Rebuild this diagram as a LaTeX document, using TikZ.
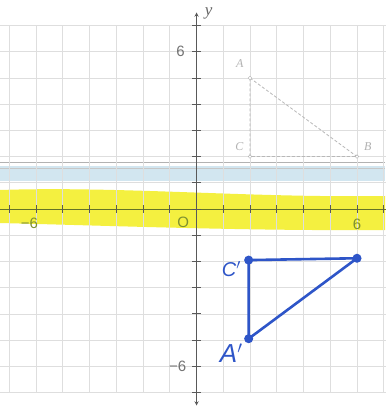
\documentclass[tikz,border=0pt]{standalone}
\usepackage{fontspec}
\setmainfont{Liberation Sans}
\newfontfamily\serifit{Liberation Serif}
\begin{document}
\begin{tikzpicture}[x=1pt,y=-1pt,
  gridline/.style={draw=black!13, line width=0.6pt},
  axisline/.style={draw=black!65, line width=0.9pt},
  ticklbl/.style={text=black!55, font=\fontsize{15}{15}\selectfont, inner sep=0pt},
  oldtri/.style={draw=black!28, line width=0.8pt, densely dashed},
  oldpt/.style={circle, draw=black!30, fill=white, inner sep=1.3pt},
  oldlbl/.style={text=black!30, font=\serifit\itshape\fontsize{12}{12}\selectfont, inner sep=0pt},
  newtri/.style={draw=inkblue, line width=2.6pt, line join=round, line cap=round},
  newpt/.style={circle, fill=inkblue, inner sep=3.2pt},
  newlbl/.style={text=inkblue, font=\itshape\fontsize{20}{20}\selectfont, inner sep=0pt}]
\definecolor{inkblue}{HTML}{2E55C8}
\definecolor{hiyellow}{HTML}{F4F040}
\definecolor{bandblue}{HTML}{D2E6F0}
\definecolor{hitext}{HTML}{7E9030}
\useasboundingbox (0,0) rectangle (385,411);
\fill[white] (0,0) rectangle (385,411);
% highlighter bands (under everything)
\fill[bandblue] (0,166) rectangle (385,181);
\fill[hiyellow] (0,190) .. controls (120,186) and (250,198) .. (385,196) -- (385,230) .. controls (250,231) and (120,226) .. (0,223) -- cycle;
\draw[black!30, line width=1pt] (0,163) -- (385,163);
\draw[black!22, line width=0.8pt] (0,168) -- (385,168);
\begin{scope}[shift={(196.5,209)}, x=26.75pt, y=26.2pt]
  % grid
  \foreach \i in {-7,...,7} {
    \draw[gridline] (\i,-7) -- (\i,7);
  }
  \foreach \j in {-7,...,7} {
    \draw[gridline] (-7.35,\j) -- (7.1,\j);
  }
  % axes
  \draw[axisline, draw=hitext!80!black] (-7.35,0) -- (7.1,0);
  \draw[axisline, -stealth] (0,-7.45) -- (0,7.5);
  \draw[axisline, -stealth] (0,0) -- (0,-7.5);
  \foreach \i in {-7,...,7} {
    \draw[black!65, line width=0.8pt] (\i,-0.15) -- (\i,0.15);
    \draw[black!65, line width=0.8pt] (-0.15,\i) -- (0.15,\i);
  }
  \node[text=black!60, font=\serifit\itshape\fontsize{17}{17}\selectfont, inner sep=0pt] (ylbl) at (0.45,7.45) {y};
  \node[ticklbl] (ysix) at (-0.6,6) {6};
  \node[ticklbl] (ymsix) at (-0.7,-6) {−6};
  \node[ticklbl, text=hitext] (xmsix) at (-6.25,-0.55) {−6};
  \node[ticklbl, text=hitext] (orig) at (-0.5,-0.52) {O};
  \node[ticklbl, text=hitext] (xsix) at (6,-0.6) {6};
  % original triangle
  \coordinate (A) at (2,5);
  \coordinate (B) at (6,2);
  \coordinate (C) at (2,2);
  \draw[oldtri] (A) -- (B) -- (C) -- cycle;
  \node[oldpt] (Ap) at (A) {};
  \node[oldpt] (Bp) at (B) {};
  \node[oldpt] (Cp) at (C) {};
  \node[oldlbl] (Al) at (1.62,5.55) {A};
  \node[oldlbl] (Bl) at (6.4,2.4) {B};
  \node[oldlbl] (Cl) at (1.6,2.4) {C};
  % reflected triangle
  \coordinate (A2) at (1.95,-4.95);
  \coordinate (B2) at (6.0,-1.88);
  \coordinate (C2) at (1.95,-1.95);
  \draw[newtri] (A2) -- (C2) -- (B2) -- cycle;
  \node[newpt] (A2p) at (A2) {};
  \node[newpt] (B2p) at (B2) {};
  \node[newpt] (C2p) at (C2) {};
  \node[newlbl] (C2l) at (1.3,-2.3) {C$'$};
  \node[newlbl, font=\itshape\fontsize{26}{26}\selectfont] (A2l) at (1.3,-5.5) {A$'$};
\end{scope}
\end{tikzpicture}
\end{document}
